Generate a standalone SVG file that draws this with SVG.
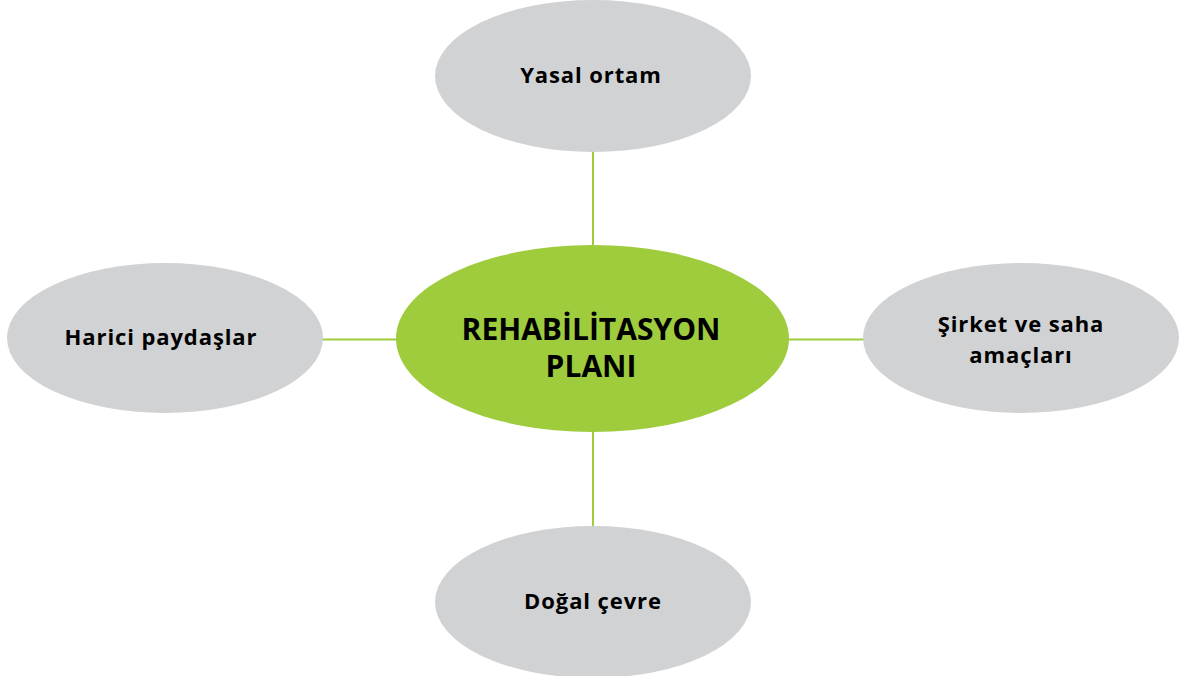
<svg xmlns="http://www.w3.org/2000/svg" width="1193" height="676" viewBox="0 0 1193 676">
<style>
.sat{fill:#D1D2D4}
.core{fill:#9ECC3C}
.lbl{font-family:"Open Sans","Noto Sans","Liberation Sans",sans-serif;font-weight:bold;font-size:22px;letter-spacing:0.9px;fill:#000;text-anchor:middle}
.big{font-family:"Open Sans","Noto Sans","Liberation Sans",sans-serif;font-weight:bold;font-size:30px;fill:#000;text-anchor:middle}
.con{stroke:#9ECC3C;stroke-width:2;fill:none}
</style>
<rect width="1193" height="676" fill="#fff"/>
<g id="connectors">
<line class="con" x1="593" y1="150" x2="593" y2="247"/>
<line class="con" x1="593" y1="430" x2="593" y2="528"/>
<line class="con" x1="321" y1="339.5" x2="398" y2="339.5"/>
<line class="con" x1="787" y1="339.5" x2="865" y2="339.5"/>
</g>
<g id="node-top">
<ellipse class="sat" cx="593" cy="76" rx="158" ry="76"/>
<text class="lbl" x="591" y="83">Yasal ortam</text>
</g>
<g id="node-bottom">
<ellipse class="sat" cx="593" cy="602" rx="158" ry="76"/>
<text class="lbl" x="593" y="609">Doğal çevre</text>
</g>
<g id="node-left">
<ellipse class="sat" cx="165" cy="338" rx="158" ry="75"/>
<text class="lbl" x="161" y="345">Harici paydaşlar</text>
</g>
<g id="node-right">
<ellipse class="sat" cx="1021" cy="338" rx="158" ry="75"/>
<text class="lbl" x="1021" y="332">Şirket ve saha</text>
<text class="lbl" x="1021" y="363">amaçları</text>
</g>
<g id="node-center">
<ellipse class="core" cx="592.5" cy="338.5" rx="196.5" ry="93.5"/>
<text class="big" x="591" y="340">REHABİLİTASYON</text>
<text class="big" x="591" y="377">PLANI</text>
</g>
</svg>
